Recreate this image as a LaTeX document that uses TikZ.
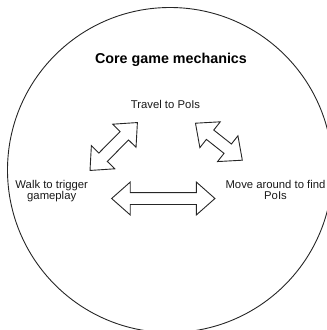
\documentclass[tikz,border=0pt]{standalone}
\usepackage{fontspec}
\setmainfont{Liberation Sans}
\usetikzlibrary{shapes.arrows}

\tikzset{
    txt/.style={font=\fontsize{11.3}{10.6}\selectfont, inner sep=0pt, align=center, text=black!90},
    fatarrow/.style={double arrow, draw=black!85, line width=0.9pt, inner xsep=0pt, inner ysep=5.5pt,
        double arrow head extend=10.5pt, double arrow tip angle=83}
}

\begin{document}
\begin{tikzpicture}[x=1pt, y=-1pt]
    \path[use as bounding box, clip] (0,0) rectangle (327,330);

    % Outer circle
    \draw[black!85, line width=0.9pt] (170,170) circle[radius=162.5];

    % Title and labels
    \node[font=\bfseries\fontsize{14.3}{16}\selectfont, inner sep=0pt, anchor=base] (title) at (171,63.5) {Core game mechanics};
    \node[txt, anchor=base] (travel) at (165.5,108.5) {Travel to PoIs};
    \node[txt, anchor=base] (walk) at (51.7,199.3) {Walk to trigger\\gameplay};
    \node[txt, anchor=base] (move) at (275.5,199.3) {Move around to find\\PoIs};

    % Arrows between the mechanics
    \node[fatarrow, minimum height=67.4pt, rotate=45.3] (walktravel) at (113.7,146.5) {};
    \node[fatarrow, minimum height=59.7pt, rotate=-38.3] (travelmove) at (218.9,141.7) {};
    \node[fatarrow, minimum height=103.3pt] (walkmove) at (163.3,198.5) {};

\end{tikzpicture}
\end{document}
